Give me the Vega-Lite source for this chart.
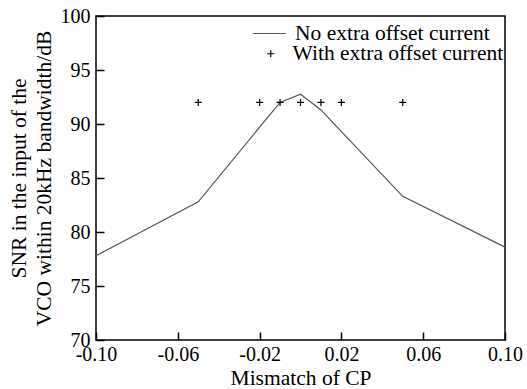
{
  "$schema": "https://vega.github.io/schema/vega-lite/v6.json",
  "autosize": "none",
  "width": 409,
  "height": 324,
  "padding": {"left": 96, "top": 16, "right": 22, "bottom": 49},
  "background": "white",
  "config": {
    "font": "Liberation Serif",
    "view": {"stroke": "black", "strokeWidth": 1.5},
    "axis": {
      "labelFont": "Liberation Serif",
      "titleFont": "Liberation Serif",
      "labelFontSize": 20,
      "titleFontSize": 21.5,
      "titleFontWeight": "normal",
      "labelColor": "black",
      "titleColor": "black",
      "tickColor": "black",
      "domain": false,
      "grid": false,
      "tickSize": -8,
      "tickWidth": 1.5,
      "labelFlush": false,
      "labelOverlap": false
    },
    "legend": {
      "labelFont": "Liberation Serif",
      "labelFontSize": 21.5,
      "labelColor": "black",
      "labelLimit": 400
    }
  },
  "datasets": {
    "line": [
      {"x": -0.10, "y": 77.8, "s": "No extra offset current"},
      {"x": -0.05, "y": 82.8, "s": "No extra offset current"},
      {"x": -0.02, "y": 89.7, "s": "No extra offset current"},
      {"x": -0.01, "y": 92.0, "s": "No extra offset current"},
      {"x": 0.00, "y": 92.75, "s": "No extra offset current"},
      {"x": 0.01, "y": 91.3, "s": "No extra offset current"},
      {"x": 0.02, "y": 89.3, "s": "No extra offset current"},
      {"x": 0.05, "y": 83.3, "s": "No extra offset current"},
      {"x": 0.10, "y": 78.6, "s": "No extra offset current"}
    ],
    "pts": [
      {"x": -0.05, "y": 92, "s": "With extra offset current"},
      {"x": -0.02, "y": 92, "s": "With extra offset current"},
      {"x": -0.01, "y": 92, "s": "With extra offset current"},
      {"x": 0.00, "y": 92, "s": "With extra offset current"},
      {"x": 0.01, "y": 92, "s": "With extra offset current"},
      {"x": 0.02, "y": 92, "s": "With extra offset current"},
      {"x": 0.05, "y": 92, "s": "With extra offset current"}
    ]
  },
  "layer": [
    {
      "data": {"name": "line"},
      "mark": {"type": "line", "strokeWidth": 1.2},
      "encoding": {
        "x": {
          "field": "x", "type": "quantitative",
          "scale": {"domain": [-0.1, 0.1], "nice": false, "zero": false},
          "axis": {"values": [-0.1, -0.06, -0.02, 0.02, 0.06, 0.1], "labelExpr": "datum.value < 0 ? '-' + format(-datum.value, '.2f') : format(datum.value, '.2f')", "title": "Mismatch of CP", "labelPadding": 12, "titlePadding": 3}
        },
        "y": {
          "field": "y", "type": "quantitative",
          "scale": {"domain": [70, 100], "nice": false, "zero": false},
          "axis": {"values": [70, 75, 80, 85, 90, 95, 100], "title": ["SNR in the input of the", "VCO within 20kHz bandwidth/dB"], "labelPadding": 14, "titlePadding": 5, "titleLineHeight": 25}
        },
        "stroke": {
          "field": "s", "type": "nominal",
          "scale": {"range": ["#555555"]},
          "legend": {"orient": "none", "legendX": 156, "legendY": 0, "title": null, "symbolSize": 1089, "symbolStrokeWidth": 1.2, "labelOffset": 8}
        }
      }
    },
    {
      "data": {"name": "pts"},
      "mark": {"type": "point", "filled": false, "size": 49, "strokeWidth": 1.2, "color": "black", "opacity": 1},
      "encoding": {
        "x": {"field": "x", "type": "quantitative"},
        "y": {"field": "y", "type": "quantitative"},
        "shape": {
          "field": "s", "type": "nominal",
          "scale": {"range": ["M-1,0L1,0M0,-1L0,1"]},
          "legend": {"orient": "none", "legendX": 164, "legendY": 27, "title": null, "symbolSize": 49, "symbolStrokeColor": "black", "symbolStrokeWidth": 1.2, "symbolFillColor": "transparent", "labelOffset": 11}
        }
      }
    }
  ]
}
